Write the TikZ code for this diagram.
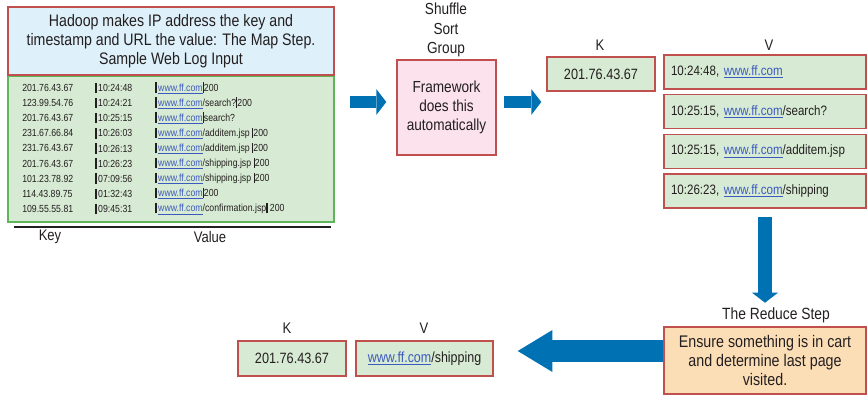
\documentclass[tikz,border=0pt]{standalone}
\usepackage{fontspec}
\setmainfont{Liberation Sans}[FakeStretch=0.85]
\usetikzlibrary{arrows.meta}
\definecolor{ink}{RGB}{35,31,32}
\definecolor{linkblue}{RGB}{60,90,190}
\definecolor{arrowblue}{RGB}{0,114,180}
\definecolor{redline}{RGB}{192,80,77}
\definecolor{greenline}{RGB}{96,180,90}
\definecolor{greenfill}{RGB}{215,234,211}
\definecolor{bluefill}{RGB}{222,240,250}
\definecolor{pinkfill}{RGB}{252,226,236}
\definecolor{orangefill}{RGB}{252,222,182}
\newcommand\lnk[1]{\textcolor{linkblue}{\underline{#1}}}
\newcommand\pipe{\rule[-1.2pt]{0.95pt}{7.8pt}}

\begin{document}
\begin{tikzpicture}[x=0.75pt,y=-0.75pt,
    every node/.style={text=ink},
    box/.style={draw=redline,line width=1.1pt,fill=greenfill,inner sep=0pt},
    lbl/.style={font=\fontsize{11.5}{13}\selectfont},
    row/.style={anchor=west,inner sep=0pt,font=\fontsize{7.7}{8.5}\selectfont},
    blockarrow/.style n args={3}{draw=arrowblue,line width=#1,-{Triangle[length=#2,width=#3,line width=0pt]}}]
    \useasboundingbox (0,0) rectangle (867,399);

    \node[box,draw=greenline,minimum width=244.5pt,minimum height=109.5pt] (maptbl) at (171,149) {};
    \node[box,fill=bluefill,minimum width=244.5pt,minimum height=51pt,align=center,font=\fontsize{12.5}{14.25}\selectfont] (head) at (171,41)
        {Hadoop makes IP address the key and\\timestamp and URL the value: The Map Step.\\Sample Web Log Input};
    \foreach \ip/\tm/\pg/\code [count=\i] in {
        201.76.43.67/10:24:48//200,
        123.99.54.76/10:24:21/{/search?}/200,
        201.76.43.67/10:25:15//search?,
        231.67.66.84/10:26:03/{/additem.jsp\ }/200,
        231.76.43.67/10:26:13/{/additem.jsp\ }/200,
        201.76.43.67/10:26:23/{/shipping.jsp\ }/200,
        101.23.78.92/07:09:56/{/shipping.jsp\ }/200,
        114.43.89.75/01:32:43//200,
        109.55.55.81/09:45:31/{/confirmation.jsp}/\ 200}{
        \node[row] (ip\i) at (22,{88+15.1*(\i-1)}) {\ip};
        \node[row] (tm\i) at (95,{88+15.1*(\i-1)}) {\pipe\,\tm};
        \node[row] (url\i) at (155,{88+15.1*(\i-1)}) {\pipe\,\lnk{www.ff.com}\pg\pipe\code};
    }
    \draw[ink,line width=1.1pt] (14,227) -- (331,227);
    \node[lbl] (keylbl) at (50,237) {Key};
    \node[lbl] (vallbl) at (210,237) {Value};

    \node[lbl,align=center,font=\fontsize{12}{14.5}\selectfont] (sortlbl) at (446,30) {Shuffle\\Sort\\Group};
    \node[box,fill=pinkfill,minimum width=74.25pt,minimum height=71.25pt,align=center,font=\fontsize{12}{14.25}\selectfont] (frame) at (446.5,107.5)
        {Framework\\does this\\automatically};

    \node[lbl] (klbl) at (600,45) {K};
    \node[box,minimum width=81pt,minimum height=25.5pt,font=\fontsize{11.2}{13}\selectfont] (kbox) at (601,74) {201.76.43.67};
    \node[lbl] (vlbl) at (769,45) {V};
    \foreach \tm/\pg [count=\i] in {10:24:48/,10:25:15/{/search?},10:25:15/{/additem.jsp},10:26:23/{/shipping}}
        \node[box,minimum width=151.5pt,minimum height=25.5pt,text width=141pt,inner xsep=5.25pt,align=left,font=\fontsize{10.2}{12}\selectfont] (vrow\i) at (765,{72+39.7*(\i-1)})
            {\tm, \lnk{www.ff.com}\pg};

    \node[lbl,font=\fontsize{12.2}{14}\selectfont] (rlbl) at (776,315) {The Reduce Step};
    \node[box,fill=orangefill,minimum width=151.5pt,minimum height=50.25pt,align=center,font=\fontsize{12.6}{13.9}\selectfont] (reduce) at (765,360.5)
        {Ensure something is in cart\\and determine last page\\visited.};

    \node[lbl] (kolbl) at (287,328) {K};
    \node[box,minimum width=81pt,minimum height=26.25pt,font=\fontsize{11.2}{13}\selectfont] (kout) at (292,358.5) {201.76.43.67};
    \node[lbl] (volbl) at (424,328) {V};
    \node[box,minimum width=102.75pt,minimum height=26.25pt,font=\fontsize{11}{13}\selectfont] (vout) at (424.5,358.5) {\lnk{www.ff.com}/shipping};

    \coordinate (mid) at (0,102);
    \coordinate (back) at (0,351);
    \draw[blockarrow={9pt}{7.5pt}{19.5pt},shorten <=11.25pt,shorten >=7.5pt] (maptbl.east |- mid) -- (frame.west |- mid);
    \draw[blockarrow={9pt}{7.5pt}{19.5pt},shorten <=5.25pt,shorten >=3.75pt] (frame.east |- mid) -- (kbox.west |- mid);
    \draw[blockarrow={10.5pt}{7.5pt}{19.5pt},shorten <=6pt] (vrow4.south) -- (vrow4.south |- rlbl.north);
    \draw[blockarrow={16.5pt}{26pt}{31.5pt},shorten >=18pt] (reduce.west |- back) -- (vout.east |- back);
\end{tikzpicture}
\end{document}
